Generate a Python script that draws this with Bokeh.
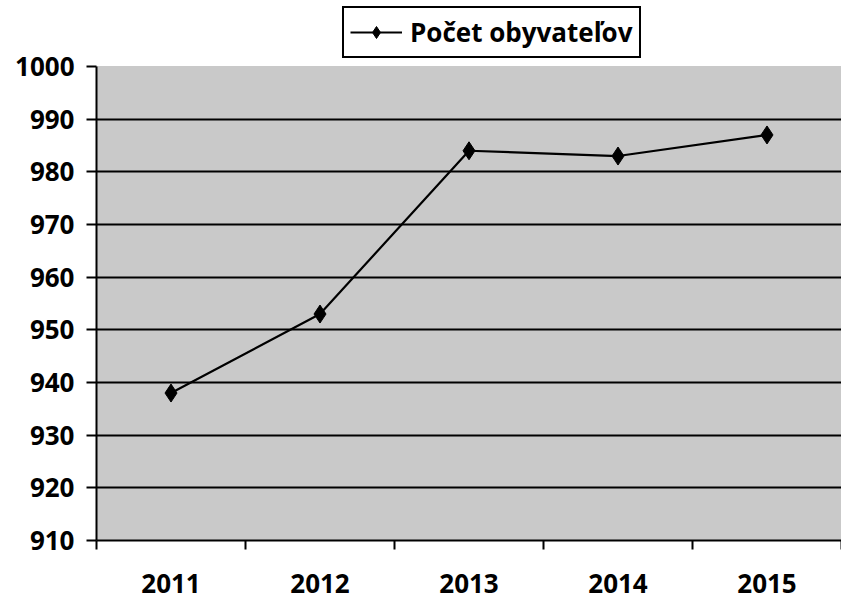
from bokeh.plotting import figure
from bokeh.models import (FixedTicker, LinearAxis, Legend, LegendItem, Range1d,
                          BoxAnnotation)
from bokeh.embed import file_html
from bokeh.resources import INLINE

years = ["2011", "2012", "2013", "2014", "2015"]
population = [938, 953, 984, 983, 987]
y_ticks = [910, 920, 930, 940, 950, 960, 970, 980, 990, 1000]
series_name = "Počet obyvateľov"

xs = list(range(1, len(years) + 1))
boundaries = [i + 0.5 for i in range(0, len(years) + 1)]

FONT = "Open Sans"

# layout (pixels)
LEFT, TOP, PLOT_H, PLOT_W, BOTTOM = 96, 66, 474, 745, 59
y_lo, y_hi = y_ticks[0], y_ticks[-1]
y_top = y_hi + TOP * (y_hi - y_lo) / PLOT_H   # headroom for the legend

p = figure(frame_width=PLOT_W, frame_height=PLOT_H + TOP, output_backend="svg",
           toolbar_location=None,
           x_range=Range1d(0.5, len(years) + 0.5), y_range=Range1d(y_lo, y_top),
           min_border_left=LEFT, min_border_top=0, min_border_bottom=BOTTOM,
           min_border_right=0, x_axis_location=None, y_axis_location=None)

p.background_fill_color = "white"
p.border_fill_color = "white"
p.outline_line_color = None

# grey plot area
p.add_layout(BoxAnnotation(bottom=y_lo, top=y_hi, fill_color="#c9c9c9", fill_alpha=1,
                           line_color="#8a8a8a", line_width=1, level="image"))

# grid
p.xgrid.visible = False
p.ygrid.ticker = FixedTicker(ticks=y_ticks[1:-1])
p.ygrid.grid_line_color = "black"
p.ygrid.grid_line_width = 2
p.ygrid.level = "underlay"

# y axis
yaxis = LinearAxis(ticker=FixedTicker(ticks=y_ticks, minor_ticks=[]), bounds=(y_lo, y_hi))
yaxis.axis_line_color = "black"
yaxis.axis_line_width = 2
yaxis.major_tick_line_width = 2
yaxis.major_tick_out = 10
yaxis.major_tick_in = 0
yaxis.minor_tick_out = 0
yaxis.major_label_standoff = 12
yaxis.major_label_text_font = FONT
yaxis.major_label_text_font_style = "bold"
yaxis.major_label_text_font_size = "26px"
yaxis.major_label_text_color = "black"
p.add_layout(yaxis, "left")

# x axis: labels at category centres, tick marks at category boundaries
xaxis = LinearAxis(ticker=FixedTicker(ticks=xs, minor_ticks=boundaries))
xaxis.major_label_overrides = {x: y for x, y in zip(xs, years)}
xaxis.axis_line_color = "black"
xaxis.axis_line_width = 2
xaxis.major_tick_out = 0
xaxis.major_tick_in = 0
xaxis.minor_tick_out = 9
xaxis.minor_tick_in = 0
xaxis.minor_tick_line_width = 2
xaxis.minor_tick_line_color = "black"
xaxis.major_label_standoff = 24
xaxis.major_label_text_font = FONT
xaxis.major_label_text_font_style = "bold"
xaxis.major_label_text_font_size = "26px"
xaxis.major_label_text_color = "black"
p.add_layout(xaxis, "below")

line = p.line(xs, population, line_color="black", line_width=2.2)
pts = p.scatter(xs, population, marker="diamond", size=18,
                fill_color="black", line_color="black")

legend = Legend(items=[LegendItem(label=series_name, renderers=[line, pts])],
                location=(246, PLOT_H - 49 + TOP - 8 - 1), orientation="horizontal", margin=0,
                padding=6, glyph_width=52, glyph_height=30, label_standoff=8,
                label_text_font=FONT, label_text_font_style="bold",
                label_text_font_size="26px", label_text_color="black",
                border_line_color="black", border_line_width=2,
                border_line_alpha=1,
                background_fill_color="white", background_fill_alpha=1)
p.add_layout(legend, "center")

open("out.html", "w").write(file_html(p, INLINE))
